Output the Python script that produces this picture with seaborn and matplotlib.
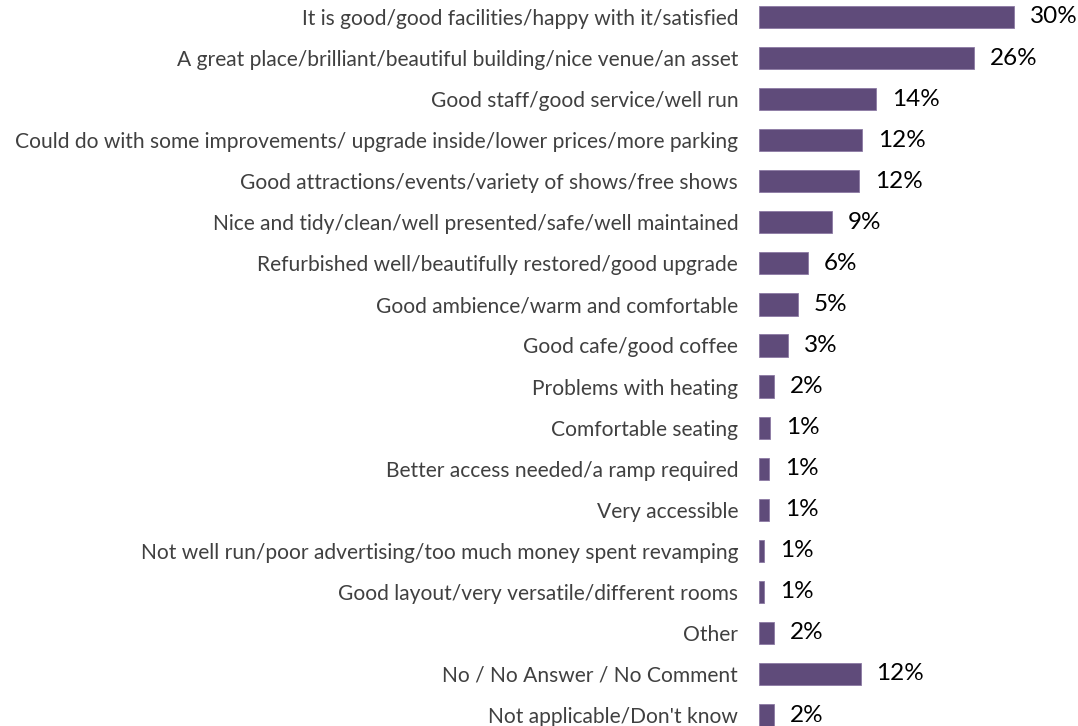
import matplotlib
matplotlib.use("Agg")
import matplotlib.pyplot as plt
import seaborn as sns
import pandas as pd

categories = [
    "It is good/good facilities/happy with it/satisfied",
    "A great place/brilliant/beautiful building/nice venue/an asset",
    "Good staff/good service/well run",
    "Could do with some improvements/ upgrade inside/lower prices/more parking",
    "Good attractions/events/variety of shows/free shows",
    "Nice and tidy/clean/well presented/safe/well maintained",
    "Refurbished well/beautifully restored/good upgrade",
    "Good ambience/warm and comfortable",
    "Good cafe/good coffee",
    "Problems with heating",
    "Comfortable seating",
    "Better access needed/a ramp required",
    "Very accessible",
    "Not well run/poor advertising/too much money spent revamping",
    "Good layout/very versatile/different rooms",
    "Other",
    "No / No Answer / No Comment",
    "Not applicable/Don't know",
]
percentages = [30.4, 25.6, 13.9, 12.3, 11.9, 8.7, 5.8, 4.6, 3.45, 1.8,
               1.3, 1.2, 1.2, 0.6, 0.6, 1.8, 12.1, 1.8]

df = pd.DataFrame({"category": categories, "pct": percentages})

sns.set_theme(style="white")
plt.rcParams["font.family"] = ["Lato", "DejaVu Sans"]

W, H = 1078, 726
fig = plt.figure(figsize=(W / 100, H / 100), dpi=100)
ax_left, ax_width = 759, 302
row = 41.06
ax_top = 17 - row / 2
ax_h = row * len(categories)
ax = fig.add_axes([ax_left / W, (H - ax_top - ax_h) / H, ax_width / W, ax_h / H])

sns.barplot(data=df, y="category", x="pct", orient="h", color="#5F4B7A",
            saturation=1, width=0.54, edgecolor="#8C7AA3", linewidth=0.6, ax=ax)

ax.set_xlim(0, 36)
ax.set_ylim(len(categories) - 0.5, -0.5)
ax.set_xlabel("")
ax.set_ylabel("")
ax.set_xticks([])
for s in ax.spines.values():
    s.set_visible(False)
ax.tick_params(axis="y", length=0, pad=15, labelsize=15.15, labelcolor="#404040")

for i, v in enumerate(percentages):
    ax.annotate(f"{v:.0f}%", xy=(v, i), xytext=(11.5, 0), textcoords="offset points",
                va="center", ha="left", fontsize=17.5, color="#000000")

fig.savefig("out.png", dpi=100)
